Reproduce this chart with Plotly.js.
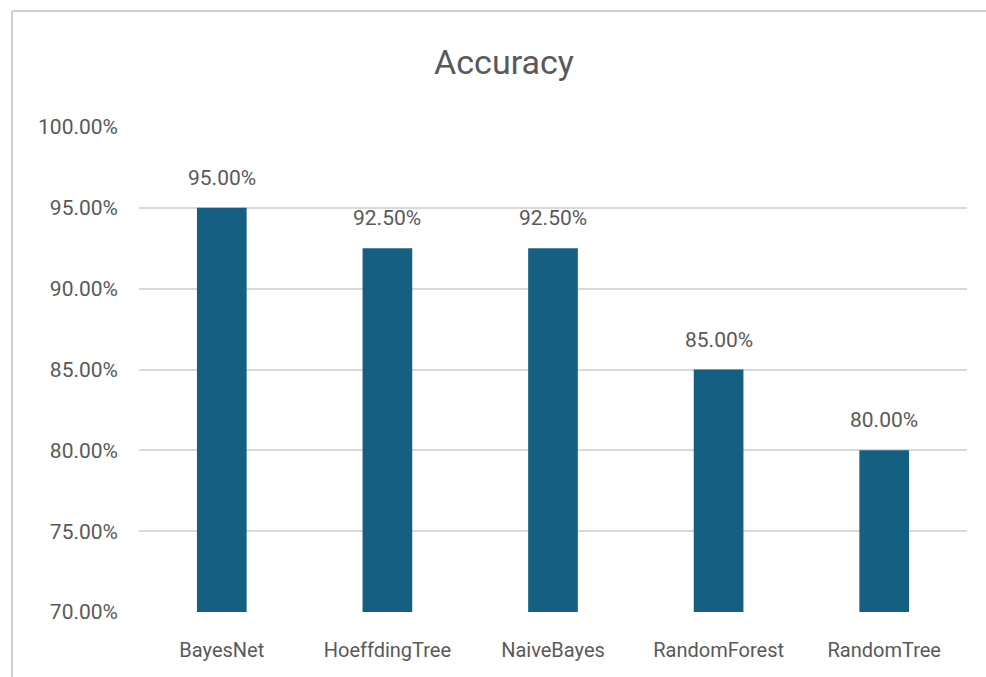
<!DOCTYPE html>
<html>
<head>
<meta charset="utf-8">
<script src="https://cdn.plot.ly/plotly-3.0.1.min.js"></script>
<style>
html, body { margin: 0; padding: 0; background: #ffffff; }
#chart { width: 986px; height: 677px; }
</style>
</head>
<body>
<div id="chart"></div>
<script>
const categories = ["BayesNet", "HoeffdingTree", "NaiveBayes", "RandomForest", "RandomTree"];
const accuracy = [0.95, 0.925, 0.925, 0.85, 0.80];
const yTickValues = [0.70, 0.75, 0.80, 0.85, 0.90, 0.95, 1.00];
const yTickLabels = ["70.00%", "75.00%", "80.00%", "85.00%", "90.00%", "95.00%", "100.00%"];
const chartTitle = "Accuracy";

const W = 986, H = 677;
const M = { l: 139, r: 19, t: 127, b: 65 };
const pw = W - M.l - M.r, ph = H - M.t - M.b;
function px(x) { return (x - M.l) / pw; }
function py(y) { return 1 - (y - M.t) / ph; }

const textColor = "#595959";
const fontFam = "Roboto, 'Liberation Sans', Arial, sans-serif";

const trace = {
  type: "bar",
  x: categories,
  y: accuracy,
  marker: { color: "#156082" },
  hoverinfo: "skip"
};

const annotations = categories.map((c, i) => ({
  x: c,
  y: accuracy[i],
  xref: "x",
  yref: "y",
  text: (accuracy[i] * 100).toFixed(2) + "%",
  showarrow: false,
  yanchor: "middle",
  yshift: 30,
  font: { family: fontFam, size: 21, color: textColor }
}));

const layout = {
  width: W,
  height: H,
  margin: M,
  paper_bgcolor: "#ffffff",
  plot_bgcolor: "#ffffff",
  showlegend: false,
  bargap: 0.7,
  title: {
    text: chartTitle,
    x: 504 / W,
    xref: "container",
    xanchor: "center",
    y: 1 - 62 / H,
    yref: "container",
    yanchor: "middle",
    font: { family: fontFam, size: 34, color: textColor }
  },
  xaxis: {
    type: "category",
    showgrid: false,
    showline: false,
    zeroline: false,
    ticks: "",
    ticklabelstandoff: 24,
    tickfont: { family: fontFam, size: 20, color: textColor }
  },
  yaxis: {
    range: [0.70, 1.00],
    tickvals: yTickValues,
    ticktext: yTickLabels,
    showgrid: true,
    gridcolor: "#d9d9d9",
    gridwidth: 2,
    zeroline: false,
    showline: false,
    ticks: "",
    ticklabelstandoff: 20,
    tickfont: { family: fontFam, size: 21, color: textColor }
  },
  annotations: annotations,
  shapes: [
    { type: "line", xref: "paper", yref: "paper", x0: px(12), x1: px(986), y0: py(11), y1: py(11),
      line: { color: "#d0d0d0", width: 2 } },
    { type: "line", xref: "paper", yref: "paper", x0: px(12), x1: px(12), y0: py(11), y1: py(677),
      line: { color: "#d0d0d0", width: 2 } }
  ]
};

Plotly.newPlot("chart", [trace], layout, { displayModeBar: false, staticPlot: true });
</script>
</body>
</html>
